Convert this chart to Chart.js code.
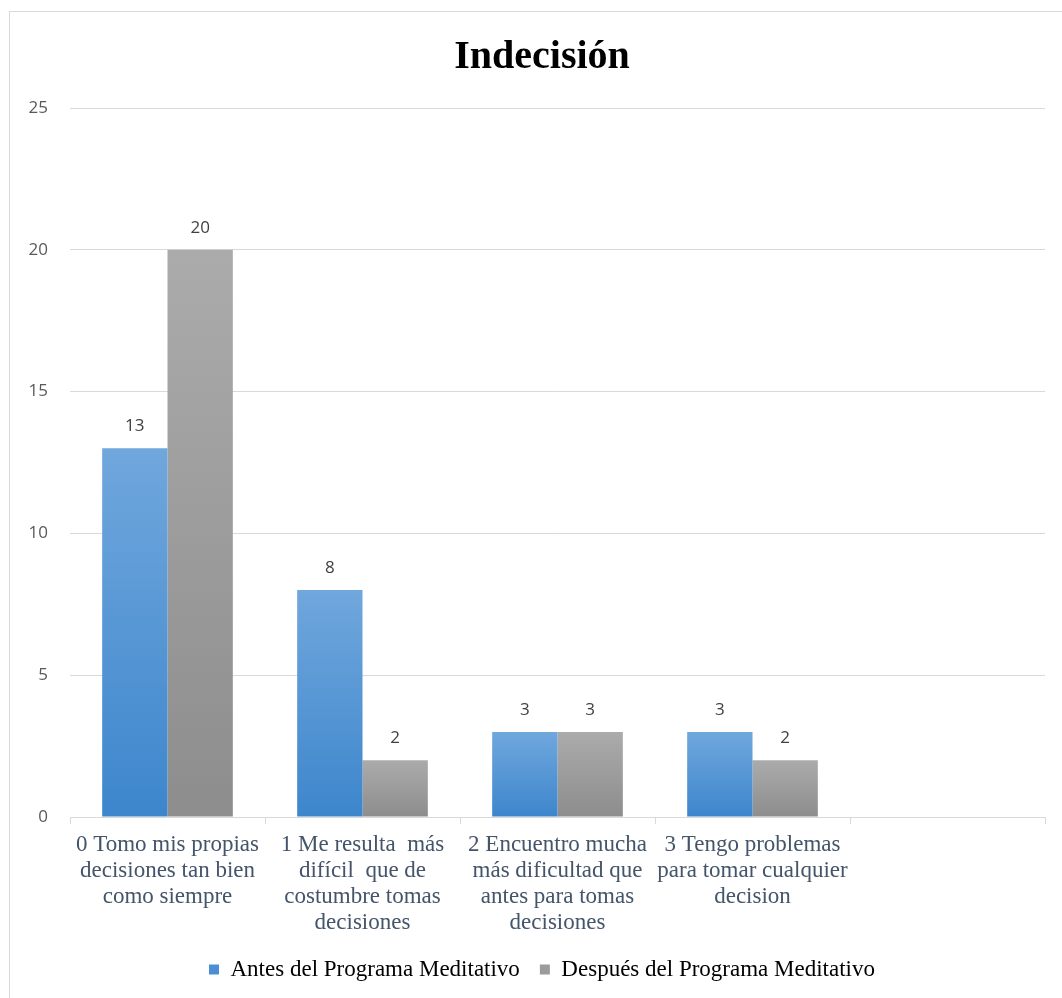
<!DOCTYPE html>
<html>
<head>
<meta charset="utf-8">
<script src="https://cdn.jsdelivr.net/npm/chart.js@4.4.1/dist/chart.umd.min.js"></script>
<style>
  html, body { margin: 0; padding: 0; background: #ffffff; overflow: hidden; }
  #marco { position: absolute; left: 9px; top: 11px; width: 1100px; height: 1100px; border: 1px solid #d9d9d9; box-sizing: border-box; }
  #caja { position: absolute; left: 0; top: 0; width: 1062px; height: 998px; }
</style>
</head>
<body>
<div id="marco"></div>
<div id="caja"><canvas id="graficoIndecision" width="1062" height="998"></canvas></div>
<script>
/* Indecisión — antes / después del programa meditativo */

const categorias = [
  ["0 Tomo mis propias", "decisiones tan bien", "como siempre"],
  ["1 Me resulta  más", "difícil  que de", "costumbre tomas", "decisiones"],
  ["2 Encuentro mucha", "más dificultad que", "antes para tomas", "decisiones"],
  ["3 Tengo problemas", "para tomar cualquier", "decision"],
  ""
];
const valoresAntes = [13, 8, 3, 3, null];
const valoresDespues = [20, 2, 3, 2, null];
const marcasEje = [0, 5, 10, 15, 20, 25];

const serif = "'Liberation Serif', 'Times New Roman', serif";
const sans = "'Open Sans', 'Liberation Sans', sans-serif";

function degradado(claro, oscuro) {
  return function(c) {
    const chart = c.chart;
    const area = chart.chartArea;
    if (!area || c.parsed == null || c.parsed.y == null) { return oscuro; }
    const y = chart.scales.y;
    const arriba = y.getPixelForValue(c.parsed.y);
    const abajo = y.getPixelForValue(0);
    if (!(abajo - arriba >= 1)) { return oscuro; }
    const g = chart.ctx.createLinearGradient(0, arriba, 0, abajo);
    g.addColorStop(0, claro);
    g.addColorStop(1, oscuro);
    return g;
  };
}

const etiquetasValor = {
  id: "etiquetasValor",
  afterDatasetsDraw(chart) {
    const ctx = chart.ctx;
    ctx.save();
    ctx.font = "17px " + sans;
    ctx.fillStyle = "#404040";
    ctx.textAlign = "center";
    ctx.textBaseline = "middle";
    chart.data.datasets.forEach(function(ds, i) {
      const meta = chart.getDatasetMeta(i);
      meta.data.forEach(function(bar, j) {
        const v = ds.data[j];
        if (v == null) { return; }
        ctx.fillText(String(v), bar.x, bar.y - 22);
      });
    });
    ctx.restore();
  }
};

// el título y la leyenda van centrados algo más a la derecha que el lienzo
const desplazarCentro = {
  id: "desplazarCentro",
  afterLayout(chart) {
    if (chart.titleBlock) { chart.titleBlock.left = 39; }
    if (chart.legend) { chart.legend.left = 39; }
  }
};

new Chart(document.getElementById("graficoIndecision").getContext("2d"), {
  type: "bar",
  data: {
    labels: categorias,
    datasets: [
      {
        label: "Antes del Programa Meditativo",
        data: valoresAntes,
        backgroundColor: degradado("#70a7dd", "#3d86cc"),
        categoryPercentage: 0.67,
        barPercentage: 1.0
      },
      {
        label: "Después del Programa Meditativo",
        data: valoresDespues,
        backgroundColor: degradado("#ababab", "#8d8d8d"),
        categoryPercentage: 0.67,
        barPercentage: 1.0
      }
    ]
  },
  options: {
    responsive: false,
    animation: false,
    devicePixelRatio: 1,
    layout: { padding: { left: 0, right: 17, top: 0, bottom: 7 } },
    plugins: {
      title: {
        display: true,
        text: "Indecisión",
        color: "#000000",
        font: { family: serif, size: 40, weight: "bold", lineHeight: 1.2 },
        padding: { top: 34, bottom: 26 }
      },
      legend: {
        position: "bottom",
        labels: {
          color: "#44546a",
          font: { family: serif, size: 23 },
          boxWidth: 10,
          boxHeight: 10,
          padding: 20,
          generateLabels: function() {
            return [
              { text: "Antes del Programa Meditativo", fillStyle: "#4a8fd4", strokeStyle: "#4a8fd4", lineWidth: 0, datasetIndex: 0 },
              { text: "Después del Programa Meditativo", fillStyle: "#9b9b9b", strokeStyle: "#9b9b9b", lineWidth: 0, datasetIndex: 1 }
            ];
          }
        }
      },
      tooltip: { enabled: false }
    },
    scales: {
      x: {
        grid: { display: true, offset: true, drawOnChartArea: false, drawTicks: true, tickLength: 7, color: "#d9d9d9" },
        border: { display: true, color: "#d9d9d9", width: 1 },
        ticks: {
          color: "#44546a",
          font: { family: serif, size: 23, lineHeight: 1.13 },
          padding: 8,
          maxRotation: 0,
          autoSkip: false
        },
        afterFit: function(scale) { scale.height = 121; }
      },
      y: {
        min: 0,
        max: 25,
        afterBuildTicks: function(scale) { scale.ticks = marcasEje.map(function(v) { return { value: v }; }); },
        grid: { color: "#d9d9d9", drawTicks: false },
        border: { display: false },
        ticks: {
          color: "#595959",
          font: { family: sans, size: 17 },
          padding: 22
        },
        afterFit: function(scale) { scale.width = 70; }
      }
    }
  },
  plugins: [etiquetasValor, desplazarCentro]
});
</script>
</body>
</html>
